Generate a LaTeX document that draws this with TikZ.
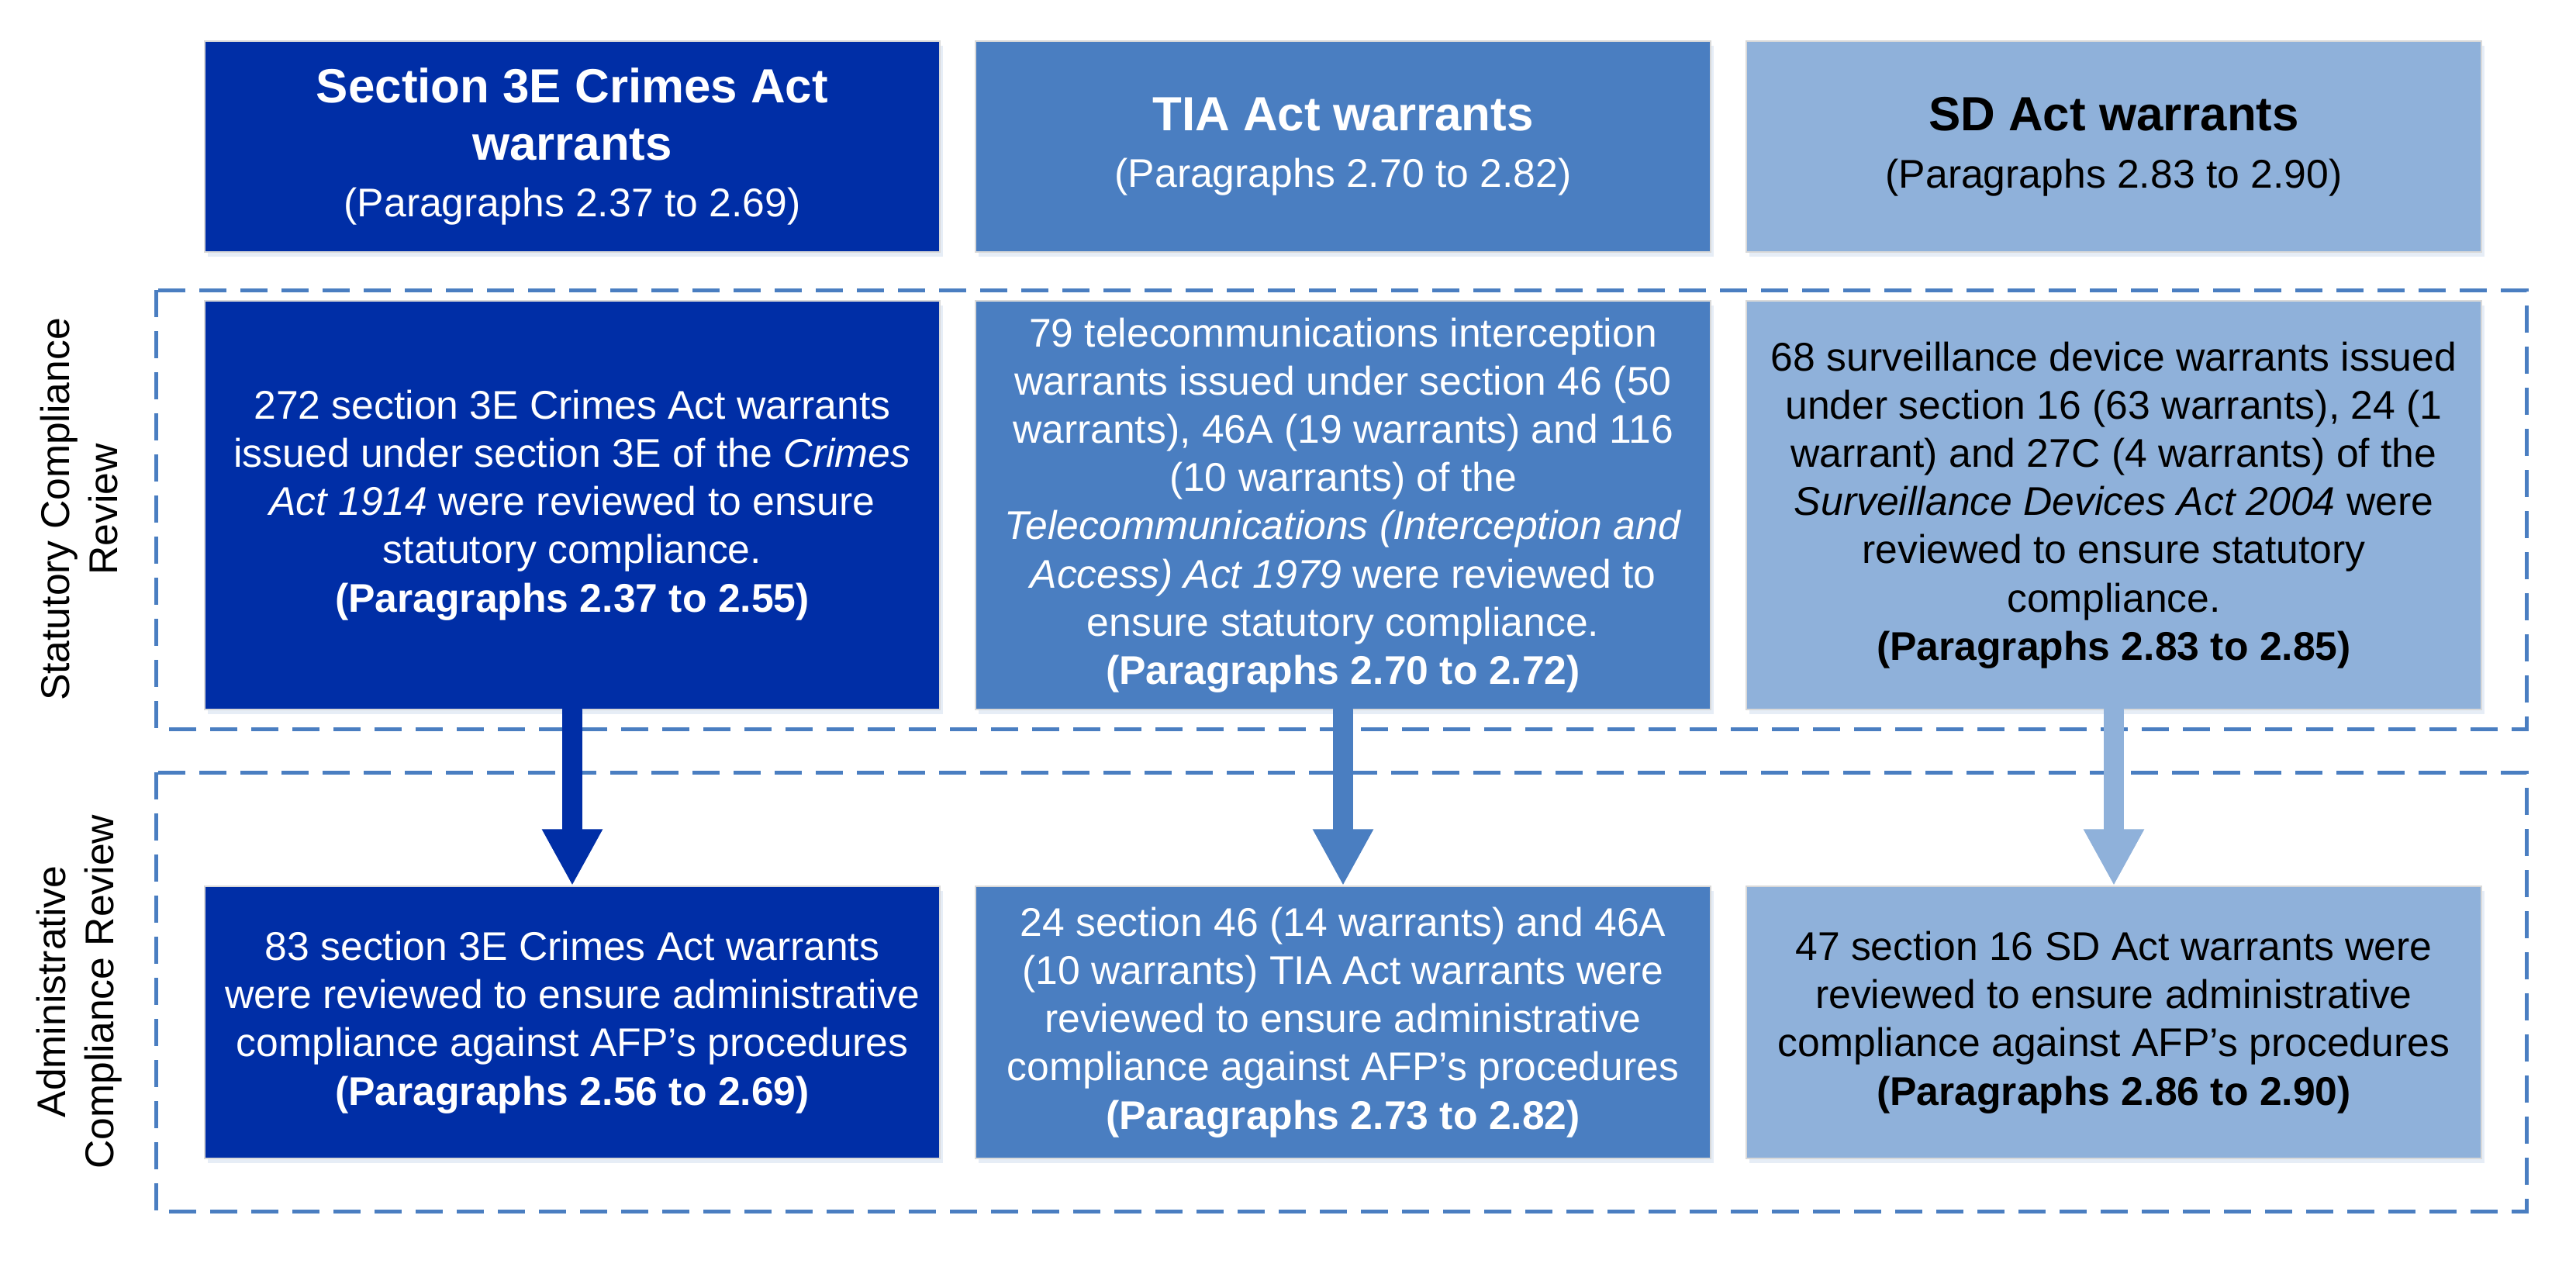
\documentclass[tikz,border=0pt]{standalone}
\usepackage{fontspec}
\setmainfont{Liberation Sans}
\usepackage{tikz}
\usetikzlibrary{positioning, arrows.meta, shadows}

\definecolor{crimesblue}{HTML}{002EA6}
\definecolor{tiablue}{HTML}{4A7EC1}
\definecolor{sdblue}{HTML}{8FB1DA}

\newcommand{\boxfont}{\fontsize{14.7}{17.7}\selectfont}
\newcommand{\headfont}{\fontsize{17.6}{21.2}\selectfont\bfseries}

\tikzset{
node distance=9.94cm, % centre to centre distance between the three columns
warrant/.style={rectangle, minimum width=9.48cm, inner sep=0pt, align=center, font=\boxfont,
  draw=black!15, line width=0.4pt,
  drop shadow={shadow xshift=0.04cm, shadow yshift=-0.06cm, fill=tiablue!40, opacity=0.35}}, % every coloured box
headbox/.style={warrant, minimum height=2.72cm}, % top row with the act names
statbox/.style={warrant, minimum height=5.27cm}, % statutory compliance row
adminbox/.style={warrant, minimum height=3.51cm}, % administrative compliance row
region/.style={draw=tiablue, dash pattern=on 0.35cm off 0.18cm, line width=0.05cm}, % dashed frame round a row
flow/.style={line width=0.26cm, line cap=round, -{Triangle[width=0.73cm, length=0.73cm]}}, % thick down arrows
sidelabel/.style={rotate=90, align=center, font=\boxfont}, % row titles on the left
}

\begin{document}
\begin{tikzpicture}[on grid]
    \useasboundingbox (0,0) rectangle (33.22,-16.33);

    % act headings
    \node[headbox, fill=crimesblue, text=white] (crimeshead) at (7.38,-1.89)
      {{\headfont Section 3E Crimes Act}\\[3.3pt]{\headfont warrants}\\[3.3pt](Paragraphs 2.37 to 2.69)};
    \node[headbox, fill=tiablue, text=white, right=of crimeshead] (tiahead)
      {{\headfont TIA Act warrants}\\[3.3pt](Paragraphs 2.70 to 2.82)};
    \node[headbox, fill=sdblue, right=of tiahead] (sdhead)
      {{\headfont SD Act warrants}\\[3.3pt](Paragraphs 2.83 to 2.90)};

    % statutory compliance review
    \node[statbox, fill=crimesblue, text=white, below=4.625cm of crimeshead] (crimesstat)
      {272 section 3E Crimes Act warrants\\issued under section 3E of the \emph{Crimes}\\\emph{Act 1914} were reviewed to ensure\\statutory compliance.\\\textbf{(Paragraphs 2.37 to 2.55)}};
    \node[statbox, fill=tiablue, text=white, right=of crimesstat] (tiastat)
      {79 telecommunications interception\\warrants issued under section 46 (50\\warrants), 46A (19 warrants) and 116\\(10 warrants) of the\\\emph{Telecommunications (Interception and}\\\emph{Access) Act 1979} were reviewed to\\ensure statutory compliance.\\\textbf{(Paragraphs 2.70 to 2.72)}};
    \node[statbox, fill=sdblue, right=of tiastat] (sdstat)
      {68 surveillance device warrants issued\\under section 16 (63 warrants), 24 (1\\warrant) and 27C (4 warrants) of the\\\emph{Surveillance Devices Act 2004} were\\reviewed to ensure statutory\\compliance.\\\textbf{(Paragraphs 2.83 to 2.85)}};

    % administrative compliance review
    \node[adminbox, fill=crimesblue, text=white, below=6.67cm of crimesstat] (crimesadmin)
      {83 section 3E Crimes Act warrants\\were reviewed to ensure administrative\\compliance against AFP’s procedures\\\textbf{(Paragraphs 2.56 to 2.69)}};
    \node[adminbox, fill=tiablue, text=white, right=of crimesadmin] (tiaadmin)
      {24 section 46 (14 warrants) and 46A\\(10 warrants) TIA Act warrants were\\reviewed to ensure administrative\\compliance against AFP’s procedures\\\textbf{(Paragraphs 2.73 to 2.82)}};
    \node[adminbox, fill=sdblue, right=of tiaadmin] (sdadmin)
      {47 section 16 SD Act warrants were\\reviewed to ensure administrative\\compliance against AFP’s procedures\\\textbf{(Paragraphs 2.86 to 2.90)}};

    % dashed frames and row titles
    \draw[region] (2.01,-3.74) rectangle (32.58,-9.40);
    \draw[region] (2.01,-9.96) rectangle (32.58,-15.62);
    \node[sidelabel] (statlabel) at (1.02,-6.57) {Statutory Compliance\\Review};
    \node[sidelabel] (adminlabel) at (1.02,-12.79) {Administrative\\Compliance Review};

    % statutory to administrative
    \draw[flow, crimesblue] (crimesstat) -- (crimesadmin);
    \draw[flow, tiablue] (tiastat) -- (tiaadmin);
    \draw[flow, sdblue] (sdstat) -- (sdadmin);
\end{tikzpicture}
\end{document}
